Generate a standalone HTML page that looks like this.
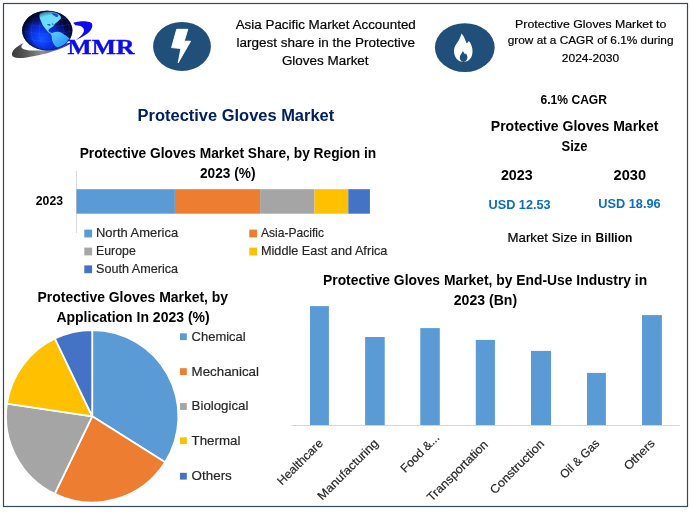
<!DOCTYPE html>
<html lang="en"><head><meta charset="utf-8"><title>Protective Gloves Market</title>
<style>html,body{margin:0;padding:0;background:#fff}svg{display:block}text{font-family:"Liberation Sans",sans-serif}.b{font-weight:700}.lg{fill:#262626;stroke:#262626;stroke-width:.18px}.r{stroke:#000;stroke-width:.18px}.serif{font-family:"Liberation Serif",serif}</style></head><body>
<svg width="692" height="512" viewBox="0 0 692 512">
<defs><radialGradient id="gl" cx="0.4" cy="0.7" r="0.58"><stop offset="0" stop-color="#1258ff"/><stop offset="0.3" stop-color="#0b3af2"/><stop offset="0.6" stop-color="#0724bd"/><stop offset="0.85" stop-color="#031066"/><stop offset="1" stop-color="#020838"/></radialGradient><linearGradient id="sw" x1="0" y1="0" x2="1" y2="0"><stop offset="0" stop-color="#3a3a3a"/><stop offset="0.25" stop-color="#5a5a5a"/><stop offset="0.5" stop-color="#909090"/><stop offset="0.72" stop-color="#5a68c8"/><stop offset="1" stop-color="#0c0cec"/></linearGradient><linearGradient id="ct" x1="0" y1="0" x2="0.6" y2="1"><stop offset="0" stop-color="#5fd4ff"/><stop offset="0.45" stop-color="#6fe0ff"/><stop offset="1" stop-color="#2f9cff"/></linearGradient><radialGradient id="rim" cx="0.6" cy="0.55" r="0.62"><stop offset="0.7" stop-color="#01051e" stop-opacity="0"/><stop offset="1" stop-color="#01051e" stop-opacity="0.85"/></radialGradient></defs>
<rect x="0" y="0" width="692" height="512" fill="#fff"/>
<rect x="3.5" y="3.5" width="684" height="503" fill="none" stroke="#34495e" stroke-width="1.2"/>
<g id="logo">
<clipPath id="gc"><ellipse cx="47.3" cy="30.5" rx="25.1" ry="19.8"/></clipPath>
<path d="M12.2 55.5 C10.8 51 16.5 46 23.8 42.9 C21 45.5 20.8 47.2 22.5 48.4 C24.5 49.9 29 50.6 37.5 50.6 C42 50.5 46.5 50 50.2 49.2 C56.5 47.9 62 45.8 67 43.2 L72 42.6 C68 46 60 49.5 50.2 52.2 C45 53.8 40 55 34.4 56 C28 57.4 22.5 58.3 18.5 58 C15 57.8 12.8 57 12.2 55.5 Z" fill="url(#sw)"/>
<ellipse cx="47.3" cy="30.5" rx="25.1" ry="19.8" fill="url(#gl)"/>
<g clip-path="url(#gc)">
<g fill="none" stroke="#5a96ff" stroke-width="0.35" opacity="0.4"><ellipse cx="47.3" cy="30.5" rx="8" ry="19.8"/><ellipse cx="47.3" cy="30.5" rx="16" ry="19.8"/><ellipse cx="47.3" cy="30.5" rx="22" ry="19.8"/><path d="M23 24 Q47.7 29 72.5 24 M22.5 31 Q47.7 37 73 31 M25 38 Q47.7 45 70.5 38 M27 17.5 Q47.7 21 68.5 17.5"/></g>
<path d="M39.6 13.9 C41.5 12.6 43.8 12 46 11.7 C48.4 11.3 51 11.3 53.3 11.7 C55.8 12.4 58.2 13.4 59.7 15 C60.8 16.2 61.2 17.5 60.7 18.7 C59.8 19.9 58.6 20.8 57.5 21.8 C56.4 22.7 55.4 23.5 54.4 24.4 C53.7 25.3 53.1 26.3 52.3 27.1 C51.5 27.8 50.4 28.1 49.6 28.7 C48.9 29.3 48.4 30 48.6 30.8 C48.9 31.6 49.5 32 50.2 32.4 C50.9 32.7 51.6 32.9 52.3 32.9 L53.3 32.4 C55 31.8 56.8 31.6 58.6 31.8 C61 32.4 63 33.6 64.9 35 C66.6 36.1 68.4 37.2 69.7 38.7 C70.6 40 69.6 41.3 68.1 42.4 C66.5 43.6 64.7 44.6 62.8 45.5 C61 46.4 59.2 47.2 57.5 47.6 C56.2 47 55.2 46 54.4 45 C53.5 43.7 52.8 42.2 52.3 40.8 C51.9 39.4 51.8 38 51.7 36.6 C51.5 35.6 51.2 34.7 50.7 33.9 C50.1 33.2 49.3 32.8 48.6 32.4 C47.6 31.4 46.7 30.3 45.9 29.2 C45 28.1 44.1 27.1 43.3 26 C42.4 24.7 41.7 23.3 41.2 21.8 C40.5 20.4 40 19 39.6 17.6 C39.3 16.3 39.2 15 39.6 13.9 Z" fill="url(#ct)"/>
<path d="M51.5 13.6 C53 14.8 54.4 16.4 56.2 17 C57.6 17.2 58.6 16.4 58.2 15.2 C56.8 13.7 53.8 12.9 51.5 13.6 Z M46.8 24.6 C47.8 25.7 49.6 26 50.8 25.2 C50.2 23.9 47.8 23.6 46.8 24.6 Z M51.5 24 C52.2 24.8 53.3 24.9 54 24.2 C53.4 23.4 52.2 23.3 51.5 24 Z" fill="#0a34d0" opacity="0.8"/>
</g>
<ellipse cx="47.3" cy="30.5" rx="25.1" ry="19.8" fill="url(#rim)"/>
<ellipse cx="47.3" cy="30.5" rx="24.8" ry="19.5" fill="none" stroke="#01062a" stroke-width="0.8" opacity="0.6"/>
<path d="M73.2 22.8 C75.2 22 77.4 21.6 79.6 21.4 C82 21.1 84.4 21.1 86.6 21.4 C88.6 21.6 90.6 22 91.5 23.1 C92.4 24.2 92.5 25.5 92.2 26.7 C91.8 28.2 91.1 29.6 90.1 30.9 C88.7 32.5 87 33.9 85.2 35.1 C82.8 36.7 80.2 38.1 77.5 39.3 L75.5 40.2 C77.8 38.7 79.9 37 81.7 35.1 C82.7 34 83.4 32.9 83.8 31.6 C84.1 30.4 83.9 29.1 83.1 28.1 C82.4 27.1 81.4 26.4 80.3 26 C78.7 25.5 77 25.4 75.4 25.3 C74.6 24.5 73.8 23.7 73.2 22.8 Z" fill="#0c0cec"/>
<text x="67.5" y="53.5" font-size="21" textLength="66.9" lengthAdjust="spacingAndGlyphs" class="b serif" fill="#0c0cec" stroke="#0c0cec" stroke-width="0.35">MMR</text>
</g>
<ellipse cx="182" cy="46.4" rx="28.9" ry="24.5" fill="#20507a"/>
<path d="M176.7 29.3 L187.8 29.3 L184.2 41.2 L190.6 41.2 L178.2 62.8 L180.9 48.5 L171.6 47.6 Z" fill="#fff" stroke="#fff" stroke-width="0.9" stroke-linejoin="round"/>
<ellipse cx="464.8" cy="47.6" rx="29.9" ry="24.4" fill="#20507a"/>
<path d="M461.4 33.6 C463 35.2 464 37 464.8 39 C465.6 40.6 466.1 42 466.6 43.4 C467.6 42.8 468.3 42 468.7 41 C470.2 42.4 471 44.2 471.6 46 C472.3 48 472.6 49.8 472.5 51.6 C472.4 54 472 55.4 471.4 56.8 C470.6 58.6 469.4 59.8 468 60.7 C466.6 61.5 465 61.8 463.4 61.8 C461.8 61.8 460.2 61.5 458.8 60.7 C457.2 59.8 456 58.4 455.2 56.6 C454.4 55 454 53.2 454 51.2 C454 49.6 454.2 48.4 454.7 47 C455.6 44.8 457 43 458.2 41.2 C459.6 39 460.8 36.6 461.4 33.6 Z" fill="#fff"/>
<path d="M462.8 51 C463.6 52.4 464.6 53.2 465.1 54.6 C465.5 54.2 465.7 53.7 465.8 53.2 C466.8 54.4 467.4 55.8 467.4 57.3 C467.4 59.8 465.7 61.9 463.5 61.9 C461.3 61.9 459.8 59.9 459.8 57.5 C459.8 55 462 53.4 462.8 51 Z" fill="#20507a"/>
<text x="235.7" y="28.8" font-size="12.3" textLength="180.1" lengthAdjust="spacingAndGlyphs" class="r">Asia Pacific Market Accounted</text>
<text x="236.6" y="47.0" font-size="12.3" textLength="178.3" lengthAdjust="spacingAndGlyphs" class="r">largest share in the Protective</text>
<text x="281.9" y="65.2" font-size="12.3" textLength="86.7" lengthAdjust="spacingAndGlyphs" class="r">Gloves Market</text>
<text x="515.1" y="27.9" font-size="11.4" textLength="151.2" lengthAdjust="spacingAndGlyphs" class="r">Protective Gloves Market to</text>
<text x="507.7" y="43.8" font-size="11.4" textLength="165.8" lengthAdjust="spacingAndGlyphs" class="r">grow at a CAGR of 6.1% during</text>
<text x="561.8" y="61.7" font-size="11.4" textLength="57.4" lengthAdjust="spacingAndGlyphs" class="r">2024-2030</text>
<text x="137.6" y="120.8" font-size="16.8" textLength="196.6" lengthAdjust="spacingAndGlyphs" class="b" fill="#002060">Protective Gloves Market</text>
<text x="540.5" y="103.8" font-size="12.8" textLength="66.5" lengthAdjust="spacingAndGlyphs" class="b">6.1% CAGR</text>
<text x="490.8" y="130.8" font-size="14.4" textLength="167.6" lengthAdjust="spacingAndGlyphs" class="b">Protective Gloves Market</text>
<text x="561.6" y="151.0" font-size="14.4" textLength="26.0" lengthAdjust="spacingAndGlyphs" class="b">Size</text>
<text x="500.9" y="179.7" font-size="14.4" textLength="31.8" lengthAdjust="spacingAndGlyphs" class="b">2023</text>
<text x="613.6" y="179.7" font-size="14.4" textLength="32.4" lengthAdjust="spacingAndGlyphs" class="b">2030</text>
<text x="488.5" y="209.3" font-size="13.2" textLength="62.1" lengthAdjust="spacingAndGlyphs" class="b" fill="#0f6cbd">USD 12.53</text>
<text x="598.3" y="208.2" font-size="13.2" textLength="62.4" lengthAdjust="spacingAndGlyphs" class="b" fill="#0f6cbd">USD 18.96</text>
<text x="507.6" y="242.1" font-size="12.6" textLength="83.8" lengthAdjust="spacingAndGlyphs" class="r">Market Size in</text>
<text x="595.6" y="242.1" font-size="12.6" textLength="36.8" lengthAdjust="spacingAndGlyphs" class="b">Billion</text>
<text x="79.7" y="158.0" font-size="14.4" textLength="296.6" lengthAdjust="spacingAndGlyphs" class="b">Protective Gloves Market Share, by Region in</text>
<text x="200.0" y="177.7" font-size="14.4" textLength="55.5" lengthAdjust="spacingAndGlyphs" class="b">2023 (%)</text>
<rect x="76" y="171" width="1" height="62" fill="#d9d9d9"/>
<rect x="76.5" y="189.2" width="98.4" height="24.5" fill="#5b9bd5"/>
<rect x="174.9" y="189.2" width="85.2" height="24.5" fill="#ed7d31"/>
<rect x="260.1" y="189.2" width="54.4" height="24.5" fill="#a5a5a5"/>
<rect x="314.5" y="189.2" width="33.8" height="24.5" fill="#ffc000"/>
<rect x="348.3" y="189.2" width="21.6" height="24.5" fill="#4472c4"/>
<text x="35.8" y="205.0" font-size="12.6" textLength="27.2" lengthAdjust="spacingAndGlyphs" class="b">2023</text>
<rect x="84.3" y="229.6" width="7.8" height="7.8" fill="#5b9bd5"/>
<text x="96.0" y="236.9" font-size="12.6" textLength="82.1" lengthAdjust="spacingAndGlyphs" class="lg">North America</text>
<rect x="249.3" y="229.6" width="7.8" height="7.8" fill="#ed7d31"/>
<text x="260.9" y="236.9" font-size="12.6" textLength="63.1" lengthAdjust="spacingAndGlyphs" class="lg">Asia-Pacific</text>
<rect x="84.3" y="247.6" width="7.8" height="7.8" fill="#a5a5a5"/>
<text x="96.0" y="254.9" font-size="12.6" textLength="39.8" lengthAdjust="spacingAndGlyphs" class="lg">Europe</text>
<rect x="249.3" y="247.6" width="7.8" height="7.8" fill="#ffc000"/>
<text x="260.9" y="254.9" font-size="12.6" textLength="126.5" lengthAdjust="spacingAndGlyphs" class="lg">Middle East and Africa</text>
<rect x="84.3" y="265.4" width="7.8" height="7.8" fill="#4472c4"/>
<text x="96.0" y="272.5" font-size="12.6" textLength="82.1" lengthAdjust="spacingAndGlyphs" class="lg">South America</text>
<text x="37.5" y="301.9" font-size="14.2" textLength="190.6" lengthAdjust="spacingAndGlyphs" class="b">Protective Gloves Market, by</text>
<text x="56.4" y="321.7" font-size="14.2" textLength="153.3" lengthAdjust="spacingAndGlyphs" class="b">Application In 2023 (%)</text>
<path d="M92.2 416.3 L92.20 330.10 A86.2 86.2 0 0 1 165.14 462.23 Z" fill="#5b9bd5" stroke="#fff" stroke-width="1.8" stroke-linejoin="round"/>
<path d="M92.2 416.3 L165.14 462.23 A86.2 86.2 0 0 1 54.68 493.91 Z" fill="#ed7d31" stroke="#fff" stroke-width="1.8" stroke-linejoin="round"/>
<path d="M92.2 416.3 L54.68 493.91 A86.2 86.2 0 0 1 6.92 403.71 Z" fill="#a5a5a5" stroke="#fff" stroke-width="1.8" stroke-linejoin="round"/>
<path d="M92.2 416.3 L6.92 403.71 A86.2 86.2 0 0 1 54.95 338.56 Z" fill="#ffc000" stroke="#fff" stroke-width="1.8" stroke-linejoin="round"/>
<path d="M92.2 416.3 L54.95 338.56 A86.2 86.2 0 0 1 92.20 330.10 Z" fill="#4472c4" stroke="#fff" stroke-width="1.8" stroke-linejoin="round"/>
<rect x="180" y="333.3" width="6.8" height="6.8" fill="#5b9bd5"/>
<text x="191.6" y="340.6" font-size="13" textLength="54.1" lengthAdjust="spacingAndGlyphs" class="lg">Chemical</text>
<rect x="180" y="368.2" width="6.8" height="6.8" fill="#ed7d31"/>
<text x="191.6" y="375.5" font-size="13" textLength="67.4" lengthAdjust="spacingAndGlyphs" class="lg">Mechanical</text>
<rect x="180" y="403.09999999999997" width="6.8" height="6.8" fill="#a5a5a5"/>
<text x="191.6" y="410.4" font-size="13" textLength="56.8" lengthAdjust="spacingAndGlyphs" class="lg">Biological</text>
<rect x="180" y="437.3" width="6.8" height="6.8" fill="#ffc000"/>
<text x="191.6" y="444.6" font-size="13" textLength="48.8" lengthAdjust="spacingAndGlyphs" class="lg">Thermal</text>
<rect x="180" y="472.8" width="6.8" height="6.8" fill="#4472c4"/>
<text x="191.6" y="480.1" font-size="13" textLength="40.2" lengthAdjust="spacingAndGlyphs" class="lg">Others</text>
<text x="323.0" y="284.8" font-size="14.4" textLength="324.2" lengthAdjust="spacingAndGlyphs" class="b">Protective Gloves Market, by End-Use Industry in</text>
<text x="453.8" y="305.2" font-size="14.4" textLength="63.3" lengthAdjust="spacingAndGlyphs" class="b">2023 (Bn)</text>
<rect x="292" y="425" width="388" height="1" fill="#d4d4d4"/>
<rect x="310" y="306.1" width="18.9" height="118.9" fill="#5b9bd5"/>
<text transform="translate(323.7,444.0) rotate(-45)" text-anchor="end" font-size="12" textLength="58.9" lengthAdjust="spacingAndGlyphs" class="lg">Healthcare</text>
<rect x="365.1" y="337" width="19.6" height="88.0" fill="#5b9bd5"/>
<text transform="translate(379.0,444.0) rotate(-45)" text-anchor="end" font-size="12" textLength="80.1" lengthAdjust="spacingAndGlyphs" class="lg">Manufacturing</text>
<rect x="420.3" y="328.1" width="19.5" height="96.9" fill="#5b9bd5"/>
<text transform="translate(440.1,438.4) rotate(-45)" text-anchor="end" font-size="12" textLength="49.2" lengthAdjust="spacingAndGlyphs" class="lg">Food &amp;...</text>
<rect x="475.8" y="339.9" width="19.1" height="85.1" fill="#5b9bd5"/>
<text transform="translate(488.7,445.2) rotate(-45)" text-anchor="end" font-size="12" textLength="80.5" lengthAdjust="spacingAndGlyphs" class="lg">Transportation</text>
<rect x="531" y="350.9" width="20.0" height="74.1" fill="#5b9bd5"/>
<text transform="translate(544.9,444.5) rotate(-45)" text-anchor="end" font-size="12" textLength="71" lengthAdjust="spacingAndGlyphs" class="lg">Construction</text>
<rect x="587" y="372.9" width="18.9" height="52.1" fill="#5b9bd5"/>
<text transform="translate(600.2,444.0) rotate(-45)" text-anchor="end" font-size="12" textLength="50" lengthAdjust="spacingAndGlyphs" class="lg">Oil &amp; Gas</text>
<rect x="642" y="315.1" width="19.9" height="109.9" fill="#5b9bd5"/>
<text transform="translate(655.5,444.0) rotate(-45)" text-anchor="end" font-size="12" textLength="38" lengthAdjust="spacingAndGlyphs" class="lg">Others</text>
</svg></body></html>
